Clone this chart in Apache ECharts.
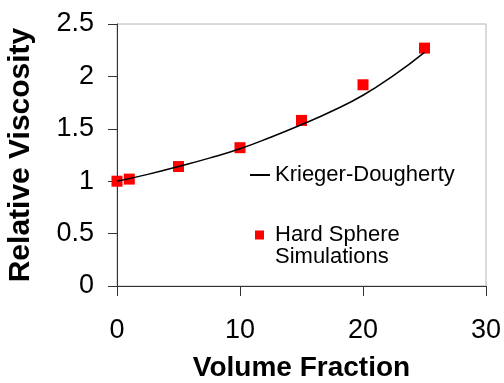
<!DOCTYPE html>
<html>
<head>
<meta charset="utf-8">
<script src="https://cdn.jsdelivr.net/npm/echarts@6/dist/echarts.min.js"></script>
<style>
  html, body { margin: 0; padding: 0; background: #fff; }
  #chart { width: 504px; height: 383px; }
</style>
</head>
<body>
<div id="chart"></div>
<script>
// hard sphere simulation points
const simX = [0, 1, 5, 10, 15, 20, 25];
const simY = [1.0, 1.02, 1.14, 1.32, 1.58, 1.92, 2.27];
// Krieger-Dougherty curve
const kdX = [0, 2.5, 5, 7.5, 10, 12.5, 15, 17.5, 20, 22.5, 25];
const kdY = [1.0, 1.065, 1.14, 1.22, 1.31, 1.42, 1.54, 1.67, 1.82, 2.01, 2.23];

const font = 'Liberation Sans, Arial, sans-serif';
const chart = echarts.init(document.getElementById('chart'));

const option = {
  animation: false,
  grid: {
    left: 117,
    right: 18,
    top: 24,
    bottom: 97,
    outerBoundsMode: 'none',
    containLabel: false,
    show: true,
    borderColor: '#b4b4b4',
    borderWidth: 1,
  },
  legend: [
    {
      left: 250,
      top: 164,
      padding: 0,
      itemWidth: 20,
      itemHeight: 2,
      data: [{ name: 'Krieger-Dougherty', icon: 'rect' }],
      textStyle: { fontFamily: font, fontSize: 22, color: '#000' },
    },
    {
      left: 255,
      top: 224,
      padding: 0,
      itemWidth: 9,
      itemHeight: 31,
      // square at the top of the icon box so it lines up with the first line
      data: [{ name: 'Hard Sphere\nSimulations', icon: 'path://M0,0H9V9H0ZM0,31H0.05V31.05H0Z' }],
      textStyle: {
        fontFamily: font,
        fontSize: 22,
        lineHeight: 22,
        color: '#000',
        padding: [0, 0, 0, 6],
      },
    },
  ],
  xAxis: {
    type: 'value',
    min: 0,
    max: 30,
    interval: 10,
    name: 'Volume Fraction',
    nameLocation: 'middle',
    nameGap: 68,
    nameMoveOverlap: false,
    nameTextStyle: { fontFamily: font, fontSize: 28, fontWeight: 'bold', color: '#000' },
    axisLine: { lineStyle: { color: '#333', width: 1 } },
    axisTick: { show: true, length: 10, lineStyle: { color: '#333' } },
    axisLabel: { margin: 31, fontFamily: font, fontSize: 27, color: '#000' },
    splitLine: { show: false },
  },
  yAxis: {
    type: 'value',
    min: 0,
    max: 2.5,
    interval: 0.5,
    name: 'Relative Viscosity',
    nameLocation: 'middle',
    nameGap: 81,
    nameMoveOverlap: false,
    nameRotate: 90,
    nameTextStyle: { fontFamily: font, fontSize: 30, fontWeight: 'bold', color: '#000' },
    axisLine: { show: true, lineStyle: { color: '#333', width: 1 } },
    axisTick: { show: true, length: 9, lineStyle: { color: '#333' } },
    axisLabel: { margin: 23, fontFamily: font, fontSize: 27, color: '#000' },
    splitLine: { show: false },
  },
  series: [
    {
      name: 'Krieger-Dougherty',
      type: 'line',
      smooth: true,
      symbol: 'none',
      lineStyle: { color: '#000', width: 1.5 },
      itemStyle: { color: '#000' },
      data: kdX.map((x, i) => [x, kdY[i]]),
    },
    {
      name: 'Hard Sphere\nSimulations',
      type: 'scatter',
      symbol: 'rect',
      symbolSize: 11,
      clip: false,
      itemStyle: { color: '#ff0000', opacity: 1 },
      data: simX.map((x, i) => [x, simY[i]]),
    },
  ],
};

chart.setOption(option);
</script>
</body>
</html>
